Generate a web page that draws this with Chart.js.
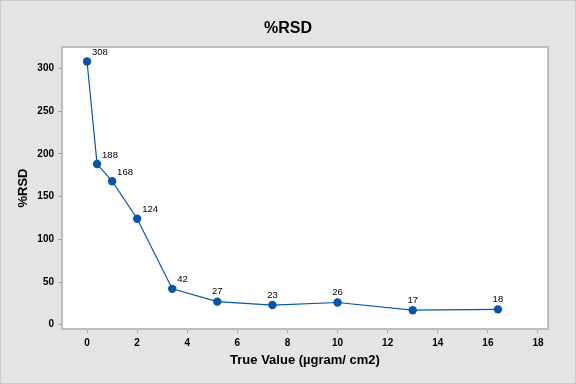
<!DOCTYPE html>
<html lang="en">
<head>
<meta charset="UTF-8" />
<title>%RSD</title>
<script src="https://cdn.jsdelivr.net/npm/chart.js"></script>
<style>
  body { margin: 0; background: #e4e4e4; }
  #rsd { display: block; }
</style>
</head>
<body>
<canvas id="rsd" width="576" height="384"></canvas>
<script>
// values
const trueValue = [0, 0.4, 1, 2, 3.4, 5.2, 7.4, 10, 13, 16.4];
const rsd = [308, 188, 168, 124, 42, 27, 23, 26, 17, 18];
const xTicks = [0, 2, 4, 6, 8, 10, 12, 14, 16, 18];
const yTicks = [0, 50, 100, 150, 200, 250, 300];
const chartTitle = '%RSD';

const FONT = '"Liberation Sans", Arial, Helvetica, sans-serif';
const BLUE = '#0a56a5';

// grey page, centred title, white plot box with grey frame
const frame = {
  id: 'frame',
  beforeDraw(chart) {
    const ctx = chart.ctx;
    ctx.save();
    ctx.fillStyle = '#e4e4e4';
    ctx.fillRect(0, 0, chart.width, chart.height);
    ctx.strokeStyle = '#c9c9c9';
    ctx.lineWidth = 1;
    ctx.strokeRect(0.5, 0.5, chart.width - 1, chart.height - 1);
    // title is centred on the whole page, not on the plot
    ctx.fillStyle = '#000';
    ctx.font = 'bold 16px ' + FONT;
    ctx.textAlign = 'center';
    ctx.textBaseline = 'middle';
    ctx.fillText(chartTitle, chart.width / 2, 29);
    ctx.restore();
  },
  beforeDatasetsDraw(chart) {
    const a = chart.chartArea;
    const ctx = chart.ctx;
    ctx.save();
    ctx.fillStyle = '#ffffff';
    ctx.fillRect(a.left, a.top, a.right - a.left, a.bottom - a.top);
    ctx.strokeStyle = '#bdbdbd';
    ctx.lineWidth = 2;
    ctx.strokeRect(a.left, a.top, a.right - a.left, a.bottom - a.top);
    ctx.restore();
  }
};

// value labels next to each point
const pointLabels = {
  id: 'pointLabels',
  afterDatasetsDraw(chart) {
    const ctx = chart.ctx;
    const pts = chart.getDatasetMeta(0).data;
    ctx.save();
    ctx.font = '9.5px ' + FONT;
    ctx.fillStyle = '#000';
    ctx.textBaseline = 'middle';
    pts.forEach((p, i) => {
      // put the label beside the point when a neighbouring segment is steep
      const steep = [pts[i - 1], pts[i + 1]].some(q => q && Math.abs(q.y - p.y) > Math.abs(q.x - p.x));
      if (steep) {
        ctx.textAlign = 'left';
        ctx.fillText(String(rsd[i]), p.x + 5, p.y - 9);
      } else {
        ctx.textAlign = 'center';
        ctx.fillText(String(rsd[i]), p.x, p.y - 10);
      }
    });
    ctx.restore();
  }
};

new Chart(document.getElementById('rsd'), {
  type: 'line',
  data: {
    datasets: [{
      label: '%RSD',
      data: trueValue.map((x, i) => ({ x: x, y: rsd[i] })),
      borderColor: BLUE,
      borderWidth: 1.2,
      backgroundColor: BLUE,
      pointBackgroundColor: BLUE,
      pointBorderWidth: 0,
      pointRadius: 4.2,
      tension: 0,
      fill: false
    }]
  },
  options: {
    responsive: false,
    animation: false,
    events: [],
    layout: { padding: { top: 47, right: 28, bottom: 0, left: 0 } },
    plugins: {
      legend: { display: false },
      tooltip: { enabled: false },
      title: { display: false }
    },
    scales: {
      x: {
        type: 'linear',
        min: -1,
        max: 18.4,
        afterBuildTicks: s => { s.ticks = xTicks.map(v => ({ value: v })); },
        afterFit: s => { s.height = 55; },
        grid: { drawOnChartArea: false, tickLength: 4, color: '#a8a8a8' },
        border: { display: false },
        ticks: { color: '#000', padding: 4, font: { family: FONT, size: 10, weight: 'bold' } },
        title: {
          display: true,
          text: 'True Value (µgram/ cm2)',
          color: '#000',
          font: { family: FONT, size: 13, weight: 'bold' },
          padding: { top: 0, bottom: 16 }
        }
      },
      y: {
        min: -5,
        max: 325,
        afterBuildTicks: s => { s.ticks = yTicks.map(v => ({ value: v })); },
        afterFit: s => { s.width = 62; },
        grid: { drawOnChartArea: false, tickLength: 4, color: '#a8a8a8' },
        border: { display: false },
        ticks: { color: '#000', padding: 4, font: { family: FONT, size: 10, weight: 'bold' } },
        title: {
          display: true,
          text: '%RSD',
          color: '#000',
          font: { family: FONT, size: 13, weight: 'bold' },
          padding: { top: 16, bottom: 0 }
        }
      }
    }
  },
  plugins: [frame, pointLabels]
});
</script>
</body>
</html>
